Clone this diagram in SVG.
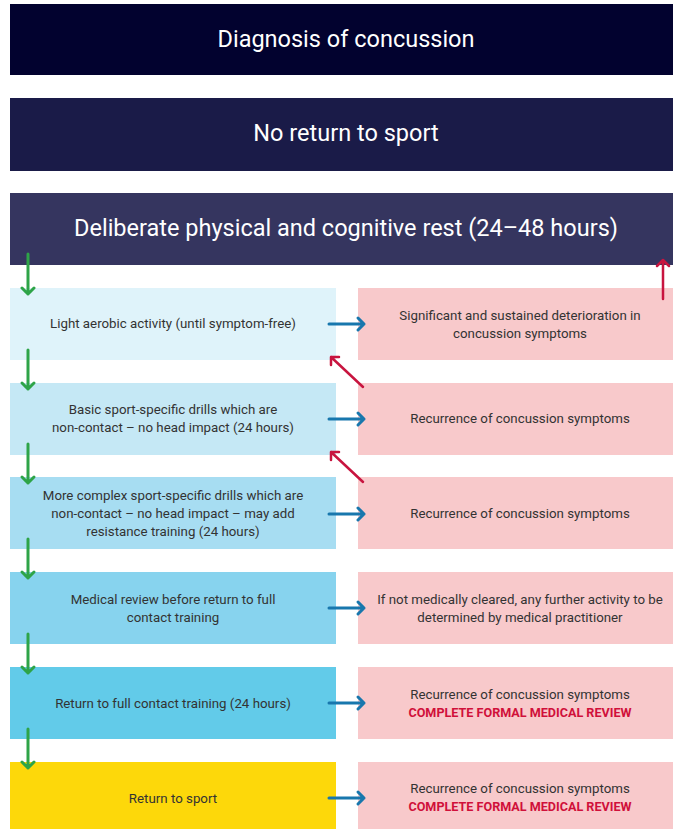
<svg xmlns="http://www.w3.org/2000/svg" width="673" height="829" viewBox="0 0 673 829">
<style>
.hdr{font-family:Roboto,"Liberation Sans",sans-serif;font-size:23.5px;fill:#ffffff;text-anchor:middle}
.t{font-family:Roboto,"Liberation Sans",sans-serif;font-size:13.3px;fill:#333333;text-anchor:middle}
.rb{font-family:Roboto,"Liberation Sans",sans-serif;font-size:12.6px;font-weight:700;fill:#d0103a;text-anchor:middle}
.pink{fill:#f8c9cb}
.g{stroke:#2ea448;stroke-width:3;fill:none;stroke-linecap:round;stroke-linejoin:round}
.b{stroke:#1877ad;stroke-width:3;fill:none;stroke-linecap:round;stroke-linejoin:round}
.r{stroke:#c8143f;stroke-width:2.5;fill:none;stroke-linecap:round;stroke-linejoin:round}
</style>
<rect width="673" height="829" fill="#ffffff"/>
<g id="diagnosis"><rect x="10" y="4" width="673" height="71" fill="#02022f"/><text class="hdr" x="346" y="47">Diagnosis of concussion</text></g>
<g id="no-return"><rect x="10" y="98" width="673" height="73" fill="#1a1b48"/><text class="hdr" x="346" y="141">No return to sport</text></g>
<g id="rest"><rect x="10" y="193" width="673" height="72" fill="#35355f"/><text class="hdr" x="346" y="236">Deliberate physical and cognitive rest (24–48 hours)</text></g>

<g id="step1"><rect x="10" y="288" width="326" height="72" fill="#dff3fa"/><text class="t" x="173" y="328">Light aerobic activity (until symptom-free)</text></g>
<g id="step2"><rect x="10" y="383" width="326" height="72" fill="#c5e8f5"/><text class="t" x="173" y="414">Basic sport-specific drills which are</text><text class="t" x="173" y="432">non-contact – no head impact (24 hours)</text></g>
<g id="step3"><rect x="10" y="477" width="326" height="72" fill="#a7ddf2"/><text class="t" x="173" y="500">More complex sport-specific drills which are</text><text class="t" x="173" y="518">non-contact – no head impact – may add</text><text class="t" x="173" y="536">resistance training (24 hours)</text></g>
<g id="step4"><rect x="10" y="572" width="326" height="72" fill="#87d3ee"/><text class="t" x="173" y="604">Medical review before return to full</text><text class="t" x="173" y="622">contact training</text></g>
<g id="step5"><rect x="10" y="667" width="326" height="72" fill="#62cbe9"/><text class="t" x="173" y="708">Return to full contact training (24 hours)</text></g>
<g id="step6"><rect x="10" y="762" width="326" height="67" fill="#fdd80a"/><text class="t" x="173" y="803">Return to sport</text></g>

<g id="out1"><rect class="pink" x="358" y="288" width="325" height="72"/><text class="t" x="520" y="320">Significant and sustained deterioration in</text><text class="t" x="520" y="338">concussion symptoms</text></g>
<g id="out2"><rect class="pink" x="358" y="383" width="325" height="72"/><text class="t" x="520" y="423">Recurrence of concussion symptoms</text></g>
<g id="out3"><rect class="pink" x="358" y="477" width="325" height="72"/><text class="t" x="520" y="518">Recurrence of concussion symptoms</text></g>
<g id="out4"><rect class="pink" x="358" y="572" width="325" height="72"/><text class="t" x="520" y="604">If not medically cleared, any further activity to be</text><text class="t" x="520" y="622">determined by medical practitioner</text></g>
<g id="out5"><rect class="pink" x="358" y="667" width="325" height="72"/><text class="t" x="520" y="699">Recurrence of concussion symptoms</text><text class="rb" x="520" y="717">COMPLETE FORMAL MEDICAL REVIEW</text></g>
<g id="out6"><rect class="pink" x="358" y="762" width="325" height="67"/><text class="t" x="520" y="793">Recurrence of concussion symptoms</text><text class="rb" x="520" y="811">COMPLETE FORMAL MEDICAL REVIEW</text></g>

<g id="connectors">
<path class="g" d="M28 254V294M22 288L28 294L34 288"/>
<path class="g" d="M28 350V389M22 383L28 389L34 383"/>
<path class="g" d="M28 444V483M22 477L28 483L34 477"/>
<path class="g" d="M28 539V578M22 572L28 578L34 572"/>
<path class="g" d="M28 634V673M22 667L28 673L34 667"/>
<path class="g" d="M28 729V768M22 762L28 768L34 762"/>
<path class="b" d="M329 324H364M358 318L364 324L358 330"/>
<path class="b" d="M329 419H364M358 413L364 419L358 425"/>
<path class="b" d="M329 514H364M358 508L364 514L358 520"/>
<path class="b" d="M329 608H364M358 602L364 608L358 614"/>
<path class="b" d="M329 703H364M358 697L364 703L358 709"/>
<path class="b" d="M329 798H364M358 792L364 798L358 804"/>
<path class="r" d="M363 387L331 357M331 365L331 357L339 357"/>
<path class="r" d="M363 482L331 452M331 460L331 452L339 452"/>
<path class="r" d="M663 299V260M657 266L663 260L669 266"/>
</g>
</svg>
